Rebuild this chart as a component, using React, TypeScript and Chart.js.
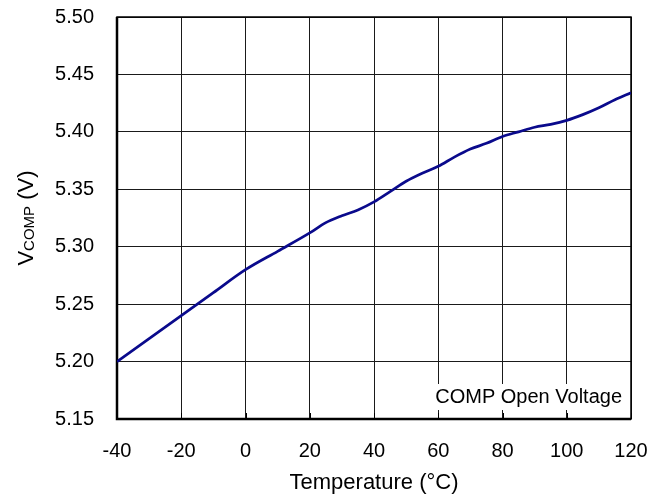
import React, { useEffect, useRef } from "react";
import { Chart, registerables } from "chart.js";
Chart.register(...registerables);

const temperatures = [-40, -30, -20, -10, 0, 10, 20, 25, 30, 35, 40, 45, 50, 55, 60, 65, 70, 75, 80, 85, 90, 95, 100, 105, 110, 115, 120];
const voltages = [5.2, 5.22, 5.24, 5.26, 5.28, 5.296, 5.312, 5.321, 5.327, 5.332, 5.339, 5.348, 5.357, 5.364, 5.37, 5.378, 5.385, 5.39, 5.396, 5.4, 5.404, 5.4065, 5.41, 5.415, 5.421, 5.428, 5.434];
const xTickValues = [-40, -20, 0, 20, 40, 60, 80, 100, 120];
const yTickValues = [5.15, 5.2, 5.25, 5.3, 5.35, 5.4, 5.45, 5.5];
const xTitle = "Temperature (°C)";
const yTitleMain = "V";
const yTitleSub = "COMP";
const yTitleTail = " (V)";
const noteText = "COMP Open Voltage";

const FONT = "'Liberation Sans', Arial, sans-serif";

const decorPlugin = {
  id: "decor",
  beforeDatasetsDraw(chart: any) {
    const { ctx, chartArea } = chart;
    const { left, right, top, bottom } = chartArea;
    const xs = chart.scales.x;
    ctx.save();
    ctx.font = `20px ${FONT}`;
    const w = ctx.measureText(noteText).width;
    const tx = right - 9;
    const ty = bottom - 16;
    ctx.fillStyle = "#fff";
    ctx.fillRect(tx - w - 4, ty - 19, w + 8, 26);
    ctx.fillStyle = "#000";
    ctx.textAlign = "right";
    ctx.textBaseline = "alphabetic";
    ctx.fillText(noteText, tx, ty);
    ctx.strokeStyle = "#000";
    ctx.lineWidth = 1;
    xTickValues.forEach((v) => {
      const px = Math.round(xs.getPixelForValue(v)) + 0.5;
      ctx.beginPath();
      ctx.moveTo(px, bottom);
      ctx.lineTo(px, bottom - 6);
      ctx.stroke();
    });
    ctx.lineWidth = 1.5;
    ctx.strokeRect(left, top, right - left, bottom - top);
    ctx.lineWidth = 2.5;
    ctx.beginPath();
    ctx.moveTo(left, top);
    ctx.lineTo(left, bottom);
    ctx.lineTo(right, bottom);
    ctx.stroke();
    ctx.restore();
  },
  afterDraw(chart: any) {
    const { ctx, chartArea } = chart;
    const { left, right, top, bottom } = chartArea;
    ctx.save();
    ctx.fillStyle = "#000";
    ctx.font = `22px ${FONT}`;
    ctx.textAlign = "center";
    ctx.textBaseline = "alphabetic";
    ctx.fillText(xTitle, (left + right) / 2, 489);
    ctx.translate(33, (top + bottom) / 2);
    ctx.rotate(-Math.PI / 2);
    ctx.textAlign = "left";
    const big = `22px ${FONT}`;
    const small = `15px ${FONT}`;
    ctx.font = big;
    const w1 = ctx.measureText(yTitleMain).width;
    const w3 = ctx.measureText(yTitleTail).width;
    ctx.font = small;
    const w2 = ctx.measureText(yTitleSub).width;
    let x = -(w1 + w2 + w3) / 2;
    ctx.font = big;
    ctx.fillText(yTitleMain, x, 0);
    x += w1;
    ctx.font = small;
    ctx.fillText(yTitleSub, x, 1);
    x += w2;
    ctx.font = big;
    ctx.fillText(yTitleTail, x, 0);
    ctx.restore();
  },
};

export default function App() {
  const ref = useRef<HTMLCanvasElement>(null);
  useEffect(() => {
    if (!ref.current) return;
    const chart = new Chart(ref.current, {
      type: "line",
      data: {
        datasets: [
          {
            data: temperatures.map((t, i) => ({ x: t, y: voltages[i] })),
            borderColor: "#0a0a8c",
            borderWidth: 2.7,
            pointRadius: 0,
            tension: 0.4,
            cubicInterpolationMode: "monotone",
            fill: false,
          },
        ],
      },
      options: {
        animation: false,
        responsive: false,
        devicePixelRatio: 1,
        layout: { padding: { top: 17, right: 36, left: 0, bottom: 0 } },
        plugins: { legend: { display: false }, tooltip: { enabled: false }, title: { display: false } },
        scales: {
          x: {
            type: "linear",
            min: -40,
            max: 120,
            afterFit: (s: any) => {
              s.height = 79;
              s.paddingLeft = 0;
              s.paddingRight = 0;
              s.paddingTop = 0;
              s.paddingBottom = 0;
            },
            afterBuildTicks: (s: any) => {
              s.ticks = xTickValues.map((v) => ({ value: v }));
            },
            ticks: {
              color: "#000",
              font: { family: FONT, size: 20 },
              padding: 20,
              maxRotation: 0,
              callback: (v: any) => String(v),
            },
            grid: { color: "#1a1a1a", lineWidth: 1, drawTicks: false },
            border: { display: false },
          },
          y: {
            type: "linear",
            min: 5.15,
            max: 5.5,
            afterFit: (s: any) => {
              s.width = 117;
              s.paddingLeft = 0;
              s.paddingRight = 0;
              s.paddingTop = 0;
              s.paddingBottom = 0;
            },
            afterBuildTicks: (s: any) => {
              s.ticks = yTickValues.map((v) => ({ value: v }));
            },
            ticks: {
              color: "#000",
              font: { family: FONT, size: 20 },
              padding: 23,
              callback: (v: any) => Number(v).toFixed(2),
            },
            grid: { color: "#1a1a1a", lineWidth: 1, drawTicks: false },
            border: { display: false },
          },
        },
      },
      plugins: [decorPlugin],
    } as any);
    return () => chart.destroy();
  }, []);
  return (
    <canvas
      ref={ref}
      width={667}
      height={498}
      style={{ position: "absolute", left: 0, top: 0, display: "block" }}
    />
  );
}
